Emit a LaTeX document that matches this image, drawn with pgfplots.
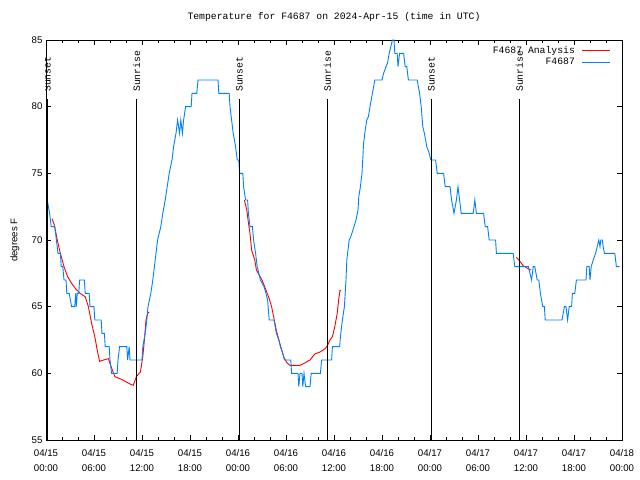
\documentclass[border=0pt]{standalone}
\usepackage{pgfplots}
\pgfplotsset{compat=1.18}
\usepackage{fontspec}
\setmainfont{Liberation Sans}
\newfontfamily\monofont{Liberation Mono}
\definecolor{anared}{RGB}{255,0,0}
\definecolor{obsblue}{RGB}{0,128,255}
\newcommand{\tickfont}{\fontsize{9.7}{14.7}\selectfont}
\newcommand{\labfont}{\monofont\fontsize{9.8}{11}\selectfont}

\begin{document}
\begin{tikzpicture}
\useasboundingbox (-46bp,-40bp) rectangle (594bp,440bp);
\begin{axis}[
    at={(0,0)}, anchor=south west,
    scale only axis,
    width=576bp, height=400bp,
    xmin=0, xmax=72, ymin=55, ymax=85,
    xtick={0,6,...,72},
    xticklabels={04/15\\00:00,04/15\\06:00,04/15\\12:00,04/15\\18:00,04/16\\00:00,04/16\\06:00,04/16\\12:00,04/16\\18:00,04/17\\00:00,04/17\\06:00,04/17\\12:00,04/17\\18:00,04/18\\00:00},
    minor x tick num=2,
    ytick={55,60,...,85},
    tick align=inside,
    major tick length=5bp,
    minor tick length=3bp,
    tick style={black, line width=0.8bp},
    axis line style={line width=0.8bp},
    /pgf/number format/assume math mode=true,
    tick label style={font=\tickfont},
    xticklabel style={align=center, yshift=-6bp},
    ylabel={degrees F},
    every axis y label/.style={at={(axis description cs:0,0.5)}, xshift=-31bp, rotate=90, anchor=center, font=\tickfont},
    title={Temperature for F4687 on 2024-Apr-15 (time in UTC)},
    every axis title/.style={at={(axis description cs:0.5,1)}, anchor=center, yshift=23bp, font=\labfont},
    unbounded coords=jump,
    legend cell align=right,
    legend plot pos=right,
    legend style={at={(rel axis cs:1,1)}, anchor=north east, xshift=-11bp, yshift=-5bp,
        draw=none, fill=none, inner sep=0pt, row sep=1.2bp, column sep=6bp,
        nodes={inner sep=1bp, font=\labfont}},
]
% analysis (three pieces)
\addplot[anared, line width=0.9bp,
  legend image code/.code={\draw[anared, line width=0.9bp] (0bp,0bp) -- (28bp,0bp);}] coordinates {
(0.75,71.6) (1.0,71.2) (1.25,70.5) (1.5,69.75) (1.8,69) (2.25,68) (2.7,67.25) (3.2,66.75)
(3.75,66.3) (4.25,66) (4.9,65.75) (5.3,65) (5.7,63.75) (6.1,62.75) (6.4,61.75) (6.7,60.9)
(7.2,61) (7.8,61.1) (8.2,60.4) (8.6,59.75) (9.25,59.6) (9.9,59.4) (10.5,59.2) (10.9,59.1)
(11.3,59.75) (11.8,60.1) (12.1,61.25) (12.3,62.5) (12.5,64) (12.7,64.5) (12.9,64.6)
(13.0,nan)
(24.8,73) (25.1,72.25) (25.3,71.3) (25.5,70.5) (25.7,69.25) (26.1,68.5) (26.3,67.75) (27.0,67)
(27.4,66.4) (27.9,65.6) (28.2,65) (28.4,64.4) (28.8,63.2) (29.25,62.2) (29.7,61.25) (30.1,60.8)
(30.5,60.6) (31.75,60.6) (32.4,60.8) (33.0,61.0) (33.6,61.45) (34.25,61.6) (34.9,61.85) (35.2,62.1)
(35.5,62.5) (35.8,62.75) (36.1,63.5) (36.4,64.5) (36.6,65.6) (36.75,66.2) (36.9,66.2)
(37.0,nan)
(58.8,68.7) (59.25,68.4) (59.6,68.1) (60.1,67.9) (60.6,67.75)
};
\addlegendentry{F4687 Analysis}
% observations
\addplot[obsblue, line width=0.9bp,
  legend image code/.code={\draw[obsblue, line width=0.9bp] (0bp,0bp) -- (28bp,0bp);}] coordinates {
(0.15,73) (0.45,72) (0.65,71) (1.1,71) (1.3,70) (1.5,69) (1.8,69) (1.9,68) (2.1,68) (2.25,67)
(2.5,67) (2.6,66) (2.9,66) (3.2,65) (3.6,65) (3.7,66) (3.8,65) (3.9,66) (4.1,66) (4.2,67)
(4.8,67) (4.9,66) (5.4,66) (5.5,65) (6.0,65) (6.1,64) (6.9,64) (7.0,63) (7.3,63) (7.4,62)
(7.9,62) (8.0,61) (8.2,60) (8.9,60) (9.0,61) (9.2,62) (10.1,62) (10.2,61) (10.4,62) (10.5,61)
(12.0,61) (12.1,62) (12.4,63) (12.6,64) (12.75,65) (13.1,66) (13.35,67) (13.55,68) (13.75,69)
(13.95,70) (14.35,71) (14.6,72) (14.9,73) (15.15,74) (15.4,75) (15.75,76) (15.95,77) (16.25,78)
(16.45,79) (16.7,78) (16.85,79) (17.05,78) (17.2,79) (17.45,80) (18.15,80) (18.25,81) (18.85,81)
(19.0,82) (21.5,82) (21.6,81) (22.9,81) (23.0,80) (23.4,78) (23.7,77) (23.9,76) (24.1,76)
(24.2,75) (24.6,75) (24.7,74) (24.95,73) (25.2,73) (25.3,72) (25.5,71) (25.8,71) (25.95,70)
(26.2,69) (26.4,68) (26.6,67.5) (26.8,67) (27.25,66.5) (27.5,66) (27.7,65.5) (27.9,64) (28.5,64)
(28.65,63.5) (28.8,63) (29.1,62.5) (29.3,62) (29.6,61.5) (29.8,61) (30.6,61) (30.7,60) (31.5,60)
(31.6,59) (31.75,60) (32.0,60) (32.1,59) (32.25,60) (32.45,59) (33.0,59) (33.15,60) (34.3,60)
(34.45,61) (35.7,61) (35.8,62) (36.7,62) (36.85,63) (37.05,64) (37.3,65) (37.5,67) (37.6,68.5)
(37.9,70) (38.1,70.25) (38.5,71) (38.75,71.5) (39.0,72.25) (39.1,73.25) (39.3,74) (39.5,75)
(39.7,77.25) (39.9,78.25) (40.1,79) (40.3,79.25) (40.5,80) (40.8,81) (41.1,82) (42.0,82)
(42.2,82.5) (42.5,83) (42.7,83.3) (42.9,84) (43.3,85) (43.5,85) (43.6,84) (43.9,84) (44.0,83)
(44.2,84) (44.7,84) (44.9,83) (45.1,83) (45.3,82) (46.4,82) (46.7,81) (46.9,80) (47.1,78.5)
(47.3,78) (47.6,77) (47.9,76.5) (48.1,76) (48.7,76) (48.9,75) (49.7,75) (49.9,74) (50.5,74)
(50.7,73) (50.85,72.5) (51.0,72) (51.3,73) (51.5,74) (51.7,73) (51.9,72) (53.4,72) (53.6,73)
(53.8,72) (54.7,72) (54.9,71) (55.2,71) (55.4,70) (56.2,70) (56.3,69) (58.4,69) (58.6,68)
(60.3,68) (60.5,67.5) (60.7,67) (60.9,68) (61.1,68) (61.4,67) (61.6,67) (61.8,66) (61.95,65.5)
(62.1,65) (62.3,65) (62.4,64) (64.5,64) (64.8,65) (65.0,65) (65.2,64) (65.4,65) (65.7,65)
(65.8,66) (66.1,66) (66.3,67) (67.5,67) (67.6,68) (67.9,68) (68.0,67) (68.15,68) (68.4,68.5)
(68.7,69) (68.9,69.5) (69.1,70) (69.25,69.5) (69.35,70) (69.55,70) (69.65,69.5) (69.8,69)
(71.1,69) (71.3,68) (71.7,68)
};
\addlegendentry{F4687}
% sunset / sunrise markers
\addplot[black, line width=0.8bp, forget plot] coordinates {(0.17,55) (0.17,80.6) (0.17,nan)
  (11.33,55) (11.33,80.6) (11.33,nan) (24.17,55) (24.17,80.6) (24.17,nan)
  (35.17,55) (35.17,80.6) (35.17,nan) (48.17,55) (48.17,80.6) (48.17,nan)
  (59.17,55) (59.17,80.6)};
\foreach \h/\t in {0.17/Sunset,11.33/Sunrise,24.17/Sunset,35.17/Sunrise,48.17/Sunset,59.17/Sunrise}{
  \edef\tmp{\noexpand\node[rotate=90, anchor=west, inner sep=0pt, font=\noexpand\labfont] at (axis cs:\h,81.1) {\t};}
  \tmp
}
\end{axis}
\end{tikzpicture}
\end{document}
